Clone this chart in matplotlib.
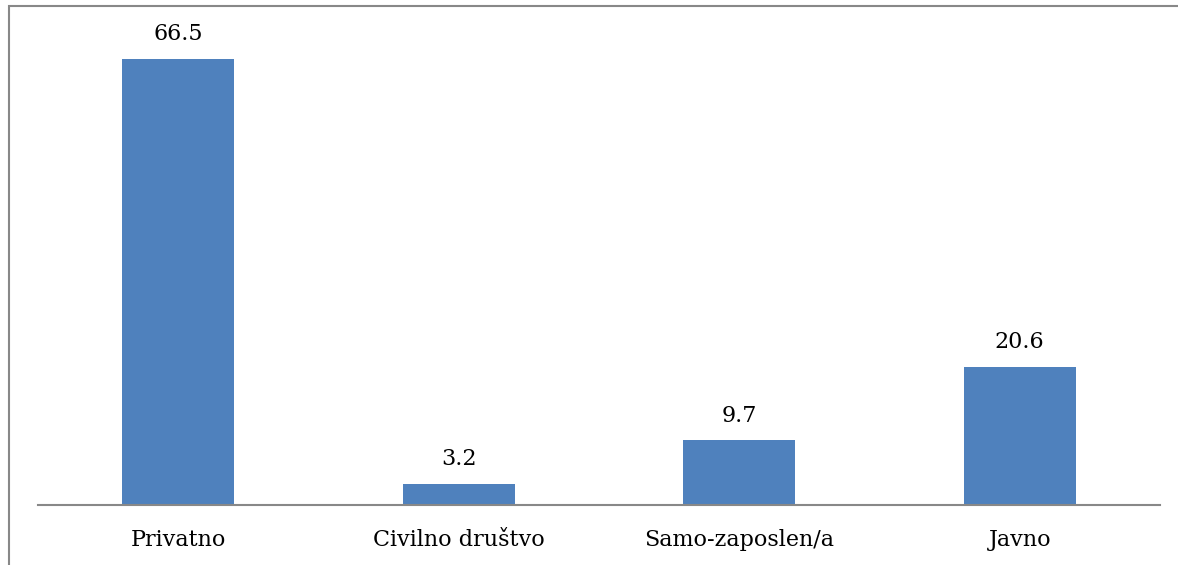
import matplotlib
matplotlib.use("Agg")
import matplotlib.pyplot as plt
from matplotlib.patches import Rectangle

categories = ["Privatno", "Civilno društvo", "Samo-zaposlen/a", "Javno"]
values = [66.5, 3.2, 9.7, 20.6]
labels = ["66.5", "3.2", "9.7", "20.6"]

W, H = 1178, 565
fig = plt.figure(figsize=(W / 100, H / 100), dpi=100)
plt.rcParams['font.family'] = ['DejaVu Serif']

ax = fig.add_axes([38 / W, 60 / H, (1160 - 38) / W, (505 - 35) / H])
x = range(len(categories))
bars = ax.bar(x, values, width=0.4, color="#4F81BD", zorder=2)
ax.set_xlim(-0.5, len(categories) - 0.5)
ax.set_ylim(0, 70)
for xi, v, lab in zip(x, values, labels):
    ax.annotate(lab, (xi, v), xytext=(0, 9.5), textcoords="offset points",
                ha="center", va="bottom", fontsize=16, color="black")
ax.set_xticks(list(x))
ax.set_xticklabels(categories, fontsize=16)
ax.tick_params(axis="x", length=0, pad=17)
ax.set_yticks([])
for s in ["top", "right", "left"]:
    ax.spines[s].set_visible(False)
ax.spines["bottom"].set_color("#888888")
ax.spines["bottom"].set_linewidth(1.5)
ax.spines["bottom"].set_zorder(3)

fig.patches.append(Rectangle((8.5 / W, -0.1), 1.2, (H - 6.5) / H + 0.1,
                             transform=fig.transFigure, fill=False,
                             edgecolor="#888888", linewidth=1.5))
fig.savefig("out.png", dpi=100)
